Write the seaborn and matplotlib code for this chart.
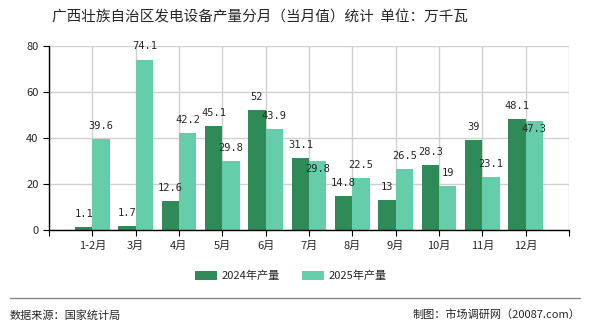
import pandas as pd
import numpy as np
import matplotlib
matplotlib.use('Agg')
import matplotlib.pyplot as plt
import seaborn as sns

# data
months = ['1-2月', '3月', '4月', '5月', '6月', '7月', '8月', '9月', '10月', '11月', '12月']
prod_2024 = [1.1, 1.7, 12.6, 45.1, 52, 31.1, 14.8, 13, 28.3, 39, 48.1]
prod_2025 = [39.6, 74.1, 42.2, 29.8, 43.9, 29.8, 22.5, 26.5, 19, 23.1, 47.3]
series_names = ['2024年产量', '2025年产量']
colors = ['#2e8b57', '#66cdaa']

df = pd.DataFrame({
    'month': months * 2,
    'value': prod_2024 + prod_2025,
    'series': [series_names[0]] * len(months) + [series_names[1]] * len(months),
})

sns.set_style('white')
plt.rcParams['font.family'] = ['Noto Sans CJK SC', 'DejaVu Sans']

fig = plt.figure(figsize=(5.9, 3.3), dpi=100)
ax = fig.add_axes([49 / 590, 1 - 230 / 330, 520 / 590, 184 / 330])

sns.barplot(data=df, x='month', y='value', hue='series', order=months,
            hue_order=series_names, palette=colors, width=0.8, gap=0,
            saturation=1, linewidth=0, edgecolor='none',
            ax=ax, legend=True, zorder=3)

ax.set_xlim(-1, 11)
ax.set_ylim(0, 80)
ax.set_yticks([0, 20, 40, 60, 80])
ax.set_xticks(range(-1, 12))
ax.set_xticklabels([''] + months + [''])
ax.tick_params(axis='x', labelsize=8, length=4, color='black', direction='out', bottom=True)
ax.tick_params(axis='y', labelsize=8, length=4, color='black', direction='out', left=True)
ax.set_xlabel('')
ax.set_ylabel('')
ax.grid(True, color='#d0d0d0', linewidth=1, zorder=0)
for s in ['top', 'right']:
    ax.spines[s].set_visible(False)
for s in ['left', 'bottom']:
    ax.spines[s].set_color('black')
    ax.spines[s].set_linewidth(1)
    ax.spines[s].set_zorder(4)

# value labels
for i in range(len(months)):
    a, b = prod_2024[i], prod_2025[i]
    ax.annotate(f'{a:g}', (i - 0.2, a), xytext=(0, 9.5), textcoords='offset points',
                ha='center', va='center', fontsize=7.5, family='DejaVu Sans Mono', zorder=5)
    off = 9.5
    if b < a and a - b < 3:
        off = -5.5
    ax.annotate(f'{b:g}', (i + 0.2, b), xytext=(0, off), textcoords='offset points',
                ha='center', va='center', fontsize=7.5, family='DejaVu Sans Mono', zorder=5)

handles, labels = ax.get_legend_handles_labels()
ax.get_legend().remove()
fig.legend(handles, labels, loc='center', bbox_to_anchor=(291 / 590, 1 - 276 / 330),
           ncol=2, frameon=False, fontsize=8, handlelength=2.0, handleheight=0.8,
           columnspacing=2.0, handletextpad=0.4)

fig.text(260 / 590, 1 - 17 / 330, '广西壮族自治区发电设备产量分月（当月值）统计  单位：万千瓦',
         ha='center', va='center', fontsize=10.5)

fig.add_artist(plt.Line2D([10 / 590, 580 / 590], [1 - 298 / 330, 1 - 298 / 330],
                          color='#888888', linewidth=1))
fig.text(10 / 590, 1 - 315 / 330, '数据来源：国家统计局', ha='left', va='center', fontsize=8)
fig.text(580 / 590, 1 - 315 / 330, '制图：市场调研网（20087.com）', ha='right', va='center', fontsize=8)

fig.savefig('out.png', dpi=100)
